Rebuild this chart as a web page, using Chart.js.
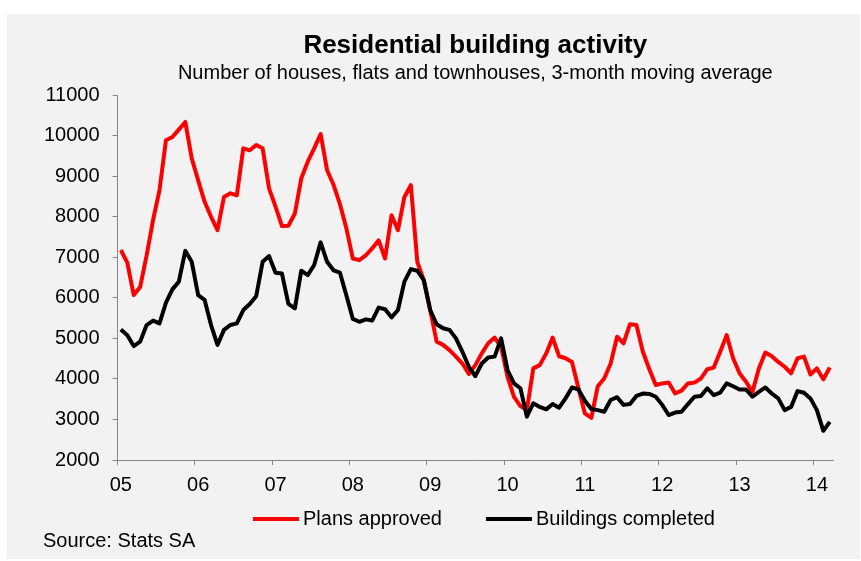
<!DOCTYPE html>
<html>
<head>
<meta charset="utf-8">
<title>Residential building activity</title>
<script src="https://cdn.jsdelivr.net/npm/chart.js@4.4.1/dist/chart.umd.min.js"></script>
<style>
    html, body { margin: 0; padding: 0; background: #ffffff; }
    #wrap { position: relative; width: 861px; height: 561px; }
</style>
</head>
<body>
<div id="wrap"><canvas id="buildingChart"></canvas></div>
<script>
// year labels shown under the x axis, one per January
var yearTicks = ['05', '06', '07', '08', '09', '10', '11', '12', '13', '14'];

// monthly values, Jan 2005 - Mar 2014
var plansApproved = [
    7180, 6870, 6070, 6270, 7050, 7920, 8660, 9890, 9970, 10150, 10340, 9440,
    8900, 8370, 8000, 7670, 8490, 8580, 8530, 9690, 9640, 9770, 9690, 8700,
    8250, 7770, 7780, 8080, 8950, 9360, 9690, 10040, 9150, 8790, 8310, 7710,
    6970, 6930, 7050, 7220, 7420, 6970, 8040, 7670, 8490, 8780, 6890, 6440,
    5700, 4920, 4840, 4710, 4550, 4380, 4120, 4340, 4630, 4880, 5020, 4790,
    4050, 3560, 3330, 3230, 4260, 4340, 4630, 5020, 4560, 4510, 4420, 3770,
    3150, 3040, 3820, 4010, 4380, 5040, 4880, 5350, 5330, 4670, 4240, 3850,
    3890, 3910, 3640, 3710, 3890, 3910, 4010, 4240, 4280, 4670, 5080, 4510,
    4140, 3930, 3680, 4260, 4650, 4560, 4420, 4300, 4140, 4510, 4550, 4110,
    4260, 3990, 4280
];

var buildingsCompleted = [
    5220, 5080, 4810, 4920, 5330, 5440, 5370, 5880, 6210, 6400, 7160, 6890,
    6070, 5950, 5330, 4840, 5210, 5330, 5370, 5700, 5850, 6040, 6890, 7030,
    6620, 6600, 5850, 5740, 6670, 6560, 6810, 7370, 6890, 6680, 6620, 6060,
    5480, 5410, 5470, 5440, 5760, 5720, 5520, 5700, 6400, 6710, 6670, 6440,
    5700, 5350, 5250, 5210, 5000, 4670, 4300, 4070, 4380, 4530, 4550, 5000,
    4220, 3890, 3770, 3070, 3400, 3310, 3250, 3380, 3290, 3520, 3790, 3740,
    3460, 3260, 3230, 3190, 3480, 3550, 3360, 3380, 3580, 3640, 3630, 3560,
    3360, 3110, 3170, 3190, 3380, 3560, 3580, 3770, 3600, 3660, 3890, 3820,
    3740, 3740, 3560, 3680, 3790, 3640, 3520, 3230, 3310, 3700, 3660, 3520,
    3230, 2720, 2940
];

// month categories, one per value
var months = [];
for (var i = 0; i < plansApproved.length; i++) {
    months.push(yearTicks[Math.floor(i / 12)] + '-' + (i % 12 + 1));
}

var FONT = '"Liberation Sans", Arial, Helvetica, sans-serif';
var AXIS_GREY = '#868686';

Chart.defaults.font.family = FONT;
Chart.defaults.font.size = 20;
Chart.defaults.color = '#000000';

// grey panel, legend row and source note
var panelPlugin = {
    id: 'panel',
    beforeDraw: function (chart) {
        var c = chart.ctx;
        c.save();
        c.fillStyle = '#ffffff';
        c.fillRect(0, 0, chart.width, chart.height);
        c.fillStyle = '#f2f2f2';
        c.fillRect(7, 14, chart.width - 8, chart.height - 16);
        c.restore();
    },
    afterDraw: function (chart) {
        var c = chart.ctx;
        c.save();
        c.font = '20px ' + FONT;
        c.fillStyle = '#000000';
        c.textBaseline = 'middle';
        c.textAlign = 'left';

        // legend: line swatch + label for each series
        var x = 253, y = 519;
        chart.data.datasets.forEach(function (ds) {
            c.strokeStyle = ds.borderColor;
            c.lineWidth = 4;
            c.beginPath();
            c.moveTo(x, y);
            c.lineTo(x + 46, y);
            c.stroke();
            c.fillStyle = '#000000';
            c.fillText(ds.label, x + 50, y);
            x += 50 + c.measureText(ds.label).width + 44;
        });

        c.fillText('Source: Stats SA', 43, 541);
        c.restore();
    }
};

var ctx = document.getElementById('buildingChart');

new Chart(ctx, {
    type: 'line',
    data: {
        labels: months,
        datasets: [{
            label: 'Plans approved',
            data: plansApproved,
            borderColor: '#ff0000',
            backgroundColor: '#ff0000',
            borderWidth: 4,
            pointRadius: 0,
            tension: 0,
            borderJoinStyle: 'round',
            order: 1
        },
        {
            label: 'Buildings completed',
            data: buildingsCompleted,
            borderColor: '#000000',
            backgroundColor: '#000000',
            borderWidth: 4,
            pointRadius: 0,
            tension: 0,
            borderJoinStyle: 'round',
            order: 0
        }]
    },
    plugins: [panelPlugin],
    options: {
        responsive: true,
        maintainAspectRatio: false,
        animation: false,
        layout: {
            padding: { left: 31, right: 28, top: 0, bottom: 56 }
        },
        plugins: {
            title: {
                display: true,
                text: 'Residential building activity',
                fullSize: false,
                font: { size: 26, weight: 'bold' },
                padding: { top: 30, bottom: 0 }
            },
            subtitle: {
                display: true,
                text: 'Number of houses, flats and townhouses, 3-month moving average',
                fullSize: false,
                font: { size: 20 },
                padding: { top: 0, bottom: 10 }
            },
            legend: { display: false },
            tooltip: { enabled: false }
        },
        scales: {
            x: {
                type: 'category',
                offset: true,
                grid: {
                    offset: true,
                    drawOnChartArea: false,
                    tickLength: 5,
                    tickColor: function (c) {
                        return c.index % 12 === 0 ? AXIS_GREY : 'rgba(0,0,0,0)';
                    }
                },
                border: { display: true, color: AXIS_GREY, width: 1 },
                ticks: {
                    autoSkip: false,
                    maxRotation: 0,
                    minRotation: 0,
                    padding: 8,
                    callback: function (value, index) {
                        return index % 12 === 0 ? yearTicks[index / 12] : '';
                    }
                }
            },
            y: {
                min: 2000,
                max: 11000,
                grid: {
                    drawOnChartArea: false,
                    tickLength: 5,
                    tickColor: AXIS_GREY
                },
                border: { display: true, color: AXIS_GREY, width: 1 },
                ticks: {
                    stepSize: 1000,
                    padding: 13,
                    callback: function (value) { return String(value); }
                }
            }
        }
    }
});
</script>
</body>
</html>
